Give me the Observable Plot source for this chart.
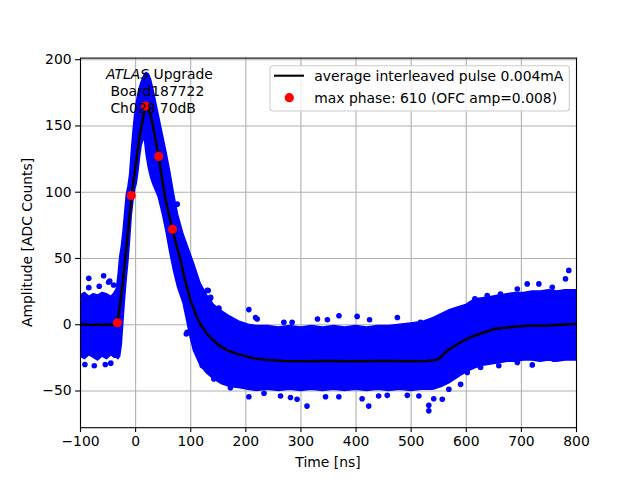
<!DOCTYPE html>
<html>
<head>
<meta charset="utf-8">
<script src="https://cdn.jsdelivr.net/npm/d3@7"></script>
<script src="https://cdn.jsdelivr.net/npm/@observablehq/plot@0.6"></script>
<style>
  html, body { margin: 0; padding: 0; background: white; }
  #chart { position: relative; width: 640px; height: 480px; }
</style>
</head>
<body>
<div id="chart"></div>
<script>
// ---- tick labels ----
const xTicks = [-100, 0, 100, 200, 300, 400, 500, 600, 700, 800];
const yTicks = [-50, 0, 50, 100, 150, 200];

// ---- dense cloud of samples: envelope ----
const bandX  = [-100,-92,-84,-76,-68,-60,-52,-44,-38,-34,-31,-28,-25,-22,-19,-16,-13,-10,-7,-4,-1,2,5,8,11,14,17,20,24,28,32,36,42,49,56,63,70,77,87,94,100,106,118,130,142,157,172,190,205,220,240,260,280,300,320,340,360,380,400,420,440,460,480,500,520,540,555,570,585,600,615,630,645,660,675,690,705,720,735,750,765,780,800];
const bandHi = [22,24,21,23,22,24,23,21,24,27,37,51,59,70,84,98,104,113,130,145,158,167,174,179,183,186,189,190,189,185,178,170,158,144,130,115,98,83,68,60,53,46,31,22,15,10,6,2,0,-1,-1,-2,-1,-2,-1,-2,-1,-2,-1,-2,-1,-1,0,1,2,5,8,11,13,15,19,20,21,22,23,24,24,25,25,26,25,26,26];
const bandLo = [-24,-26,-23,-25,-27,-24,-26,-23,-25,-25,-26,-24,-15,3,20,35,48,64,82,93,102,106,115,126,135,139,139,128,118,111,106,102,96,84,70,54,40,28,16,2,-10,-20,-31,-37,-41,-45,-47,-48,-49,-50,-49,-50,-49,-50,-49,-50,-49,-50,-49,-50,-49,-50,-49,-50,-49,-49,-47,-44,-40,-36,-33,-31,-30,-29,-28,-28,-27,-27,-28,-27,-28,-27,-27];

// ---- isolated samples outside the dense cloud ----
const outX = [-85,-58,-49,-85,-66,-40,-47,-92,-75,-55,-45,75.5,130,131.7,136,151,93.6,92,121,151,136,205.5,217.6,220.6,269,284,330,348,369,402,424.5,475,517,550,565.5,580.6,562.4,615.6,638,662,692.6,710.6,731.7,756,780,786,205.5,233,263,281,293,311,344.6,368.8,411,423,441,456.6,493,514,532,532,541,556.5,568.4,142,172,589.7,601.8,626,659,692.6,719.8,759];
const outY = [35,37,32,28,29,30,33,-30,-31,-30,-29,91,26,25.8,20.7,12.6,-5.8,-7,-31,11.9,20,11.4,5.5,4.3,1.8,1.8,4.3,3.8,6.8,6.3,3.8,5.5,1.8,3,6.8,9.8,6,19.5,22,23.2,27,30.8,30.8,28.3,34.6,41,-54.3,-51.7,-53.8,-55,-56.3,-61.4,-54.3,-54.3,-55.8,-61.4,-53.8,-53.3,-53.3,-53.8,-60.8,-65,-55.8,-56.3,-48.7,-41,-47.5,-45,-36,-32.3,-31,-28.5,-30.3,-26];

// ---- average interleaved pulse ----
const avgX = [-100,-90,-80,-70,-60,-50,-40,-35,-33,-30,-27,-23,-19,-15,-11,-7,-3,0,3,7,12,16,19,22,26,30,36,42,48,54,60,67,74,81,90,100,110,118,130,148,165,184,210,240,270,300,350,400,450,500,530,545,553,565,575,589,600,614,635,650,680,710,750,795,800];
const avgY = [0,0.3,-0.3,0.2,-0.2,0.1,0,0.3,1.3,10,20,33,50,65,82,98,111,120,129,141,153,161,165,165,160,153,140,127,110,95,84,72,60,50,33,18,7,0,-7,-14.6,-19,-22,-25,-26.7,-27.3,-27.5,-27.3,-27.5,-27.3,-27.5,-27.3,-26.5,-24.8,-19.7,-17,-13.4,-11,-8.3,-5.5,-3.3,-1.8,-0.8,-0.5,0.5,0.5];

// ---- max phase samples ----
const phaseX = [-33, -8, 18, 42, 67];
const phaseY = [1.5, 97.5, 165, 127, 72];

const band = bandX.map((x, i) => ({x, lo: bandLo[i], hi: bandHi[i]}));
const outliers = outX.map((x, i) => ({x, y: outY[i]}));
const avg = avgX.map((x, i) => ({x, y: avgY[i]}));
const phase = phaseX.map((x, i) => ({x, y: phaseY[i]}));

const fmt = d => d < 0 ? "\u2212" + Math.abs(d) : String(d);
const gridStyle = {stroke: "#b0b0b0", strokeOpacity: 1, strokeWidth: 1.1};

const chart = Plot.plot({
  width: 640,
  height: 480,
  marginLeft: 80,
  marginRight: 64,
  marginTop: 57.6,
  marginBottom: 52.8,
  style: {fontFamily: "DejaVu Sans", fontSize: "13.9px", background: "white", color: "black"},
  x: {domain: [-100, 800]},
  y: {domain: [-77.7, 201.2]},
  marks: [
    Plot.gridX(xTicks, gridStyle),
    Plot.gridY(yTicks, gridStyle),
    Plot.areaY(band, {x: "x", y1: "lo", y2: "hi", fill: "#0000ff", stroke: "#0000ff", strokeWidth: 1.5, clip: true}),
    Plot.dot(outliers, {x: "x", y: "y", r: 2.8, fill: "#0000ff", clip: true}),
    Plot.line(avg, {x: "x", y: "y", stroke: "black", strokeWidth: 2.5, clip: true}),
    Plot.dot(phase, {x: "x", y: "y", r: 4.6, fill: "#ff0000"}),
    Plot.frame({stroke: "black", strokeWidth: 1.1}),
    Plot.axisX(xTicks, {tickSize: 4.9, tickPadding: 4, tickFormat: fmt, label: null, strokeWidth: 1.1, fontSize: 13.9}),
    Plot.axisY(yTicks, {tickSize: 4.9, tickPadding: 4, tickFormat: fmt, label: null, strokeWidth: 1.1, fontSize: 13.9})
  ]
});

document.getElementById("chart").appendChild(chart);

// ---- annotations, axis titles and legend ----
const svg = d3.select(chart);
const fontFam = "DejaVu Sans";

svg.append("text")
  .attr("x", 328).attr("y", 467)
  .attr("text-anchor", "middle")
  .attr("font-family", fontFam).attr("font-size", 13.9).attr("fill", "black")
  .text("Time [ns]");

svg.append("text")
  .attr("transform", "translate(27,242.4) rotate(-90)")
  .attr("text-anchor", "middle").attr("dy", "0.35em")
  .attr("font-family", fontFam).attr("font-size", 13.9).attr("fill", "black")
  .text("Amplitude [ADC Counts]");

const ann = svg.append("g").attr("font-family", fontFam).attr("font-size", 13.9)
  .attr("fill", "black").attr("text-anchor", "start");
const t1 = ann.append("text").attr("x", 106).attr("y", 79.3).attr("text-anchor", "start");
t1.append("tspan").attr("font-style", "italic").text("ATLAS");
t1.append("tspan").text(" Upgrade");
ann.append("text").attr("x", 110.4).attr("y", 96).attr("text-anchor", "start").text("Board187722");
ann.append("text").attr("x", 110.4).attr("y", 112.7).attr("text-anchor", "start").text("Ch028 70dB");

const leg = svg.append("g").attr("font-family", fontFam).attr("font-size", 13.9).attr("text-anchor", "start");
leg.append("rect")
  .attr("x", 270).attr("y", 65.7).attr("width", 299.3).attr("height", 45.3)
  .attr("rx", 3).attr("fill", "white").attr("fill-opacity", 0.8)
  .attr("stroke", "#cccccc").attr("stroke-width", 1.1);
leg.append("line")
  .attr("x1", 274).attr("x2", 304).attr("y1", 75.7).attr("y2", 75.7)
  .attr("stroke", "black").attr("stroke-width", 2.1);
leg.append("text").attr("x", 314.3).attr("y", 80.7).attr("fill", "black").attr("text-anchor", "start")
  .text("average interleaved pulse 0.004mA");
leg.append("circle").attr("cx", 289.3).attr("cy", 97.7).attr("r", 4.6).attr("fill", "#ff0000");
leg.append("text").attr("x", 314.3).attr("y", 102.7).attr("fill", "black").attr("text-anchor", "start")
  .text("max phase: 610 (OFC amp=0.008)");
</script>
</body>
</html>
